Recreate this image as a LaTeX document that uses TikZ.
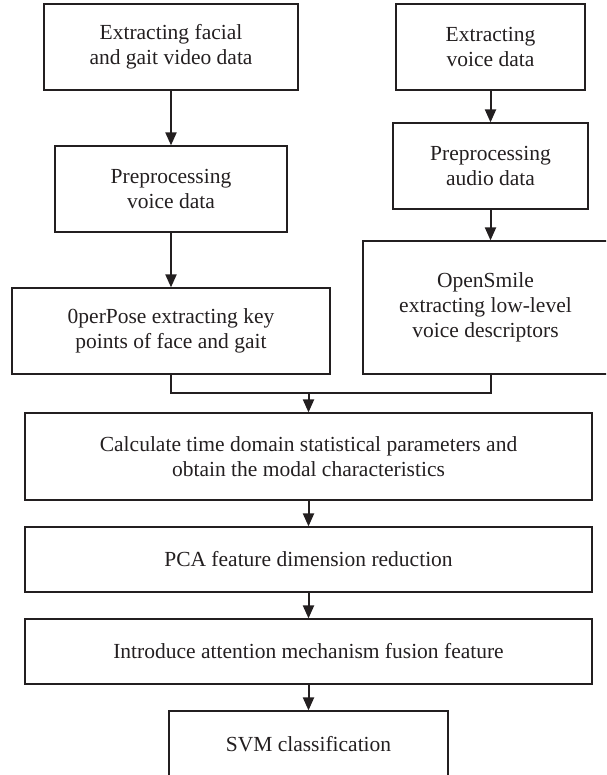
\documentclass[tikz,border=0pt]{standalone}
\usepackage{fontspec}
\setmainfont{Liberation Serif}
\usetikzlibrary{arrows.meta}
\definecolor{ink}{HTML}{231F20}
\begin{document}
\begin{tikzpicture}[x=1pt,y=-1pt,
  box/.style={draw=ink, line width=1.2pt, text=ink, align=center, inner sep=0pt,
              font=\fontsize{21.5}{25}\selectfont},
  flow/.style={draw=ink, line width=2pt, -{Triangle[width=11pt,length=13pt]}},
  link/.style={draw=ink, line width=2pt},
]
\useasboundingbox (0,0) rectangle (606,775);
\begin{scope}
\clip (0,0) rectangle (606,775);
% video branch
\node[box, minimum width=254, minimum height=86] (vid) at (171,47)
  {Extracting facial\\and gait video data};
\node[box, minimum width=232, minimum height=86] (previd) at (171,189)
  {Preprocessing\\voice data};
\node[box, minimum width=318, minimum height=86] (pose) at (171,331)
  {0perPose extracting key\\points of face and gait};
% audio branch
\node[box, minimum width=189, minimum height=86] (voice) at (490.5,47)
  {Extracting\\voice data};
\node[box, minimum width=195, minimum height=86] (preaud) at (490.5,166)
  {Preprocessing\\audio data};
\node[box, minimum width=245, minimum height=133] (smile) at (485.5,307.5)
  {OpenSmile\\extracting low-level\\voice descriptors};
% common pipeline
\node[box, minimum width=567, minimum height=87] (stats) at (308.5,456.5)
  {Calculate time domain statistical parameters and\\obtain the modal characteristics};
\node[box, minimum width=567, minimum height=65] (pca) at (308.5,559.5)
  {PCA feature dimension reduction};
\node[box, minimum width=567, minimum height=65] (att) at (308.5,651.5)
  {Introduce attention mechanism fusion feature};
\node[box, minimum width=279, minimum height=66] (svm) at (308.5,744)
  {SVM classification};
\coordinate (join) at (308.5,393);
% connectors
\draw[flow] (vid) -- (previd);
\draw[flow] (previd) -- (pose);
\draw[flow] (voice) -- (preaud);
\draw[flow] (preaud.south) -- (preaud.south |- smile.north);
\draw[link] (pose.south) |- (join) -| (preaud.south |- smile.south);
\draw[flow] (join) -- (stats.north);
\draw[flow] (stats) -- (pca);
\draw[flow] (pca) -- (att);
\draw[flow] (att) -- (svm);
\end{scope}
\end{tikzpicture}
\end{document}
